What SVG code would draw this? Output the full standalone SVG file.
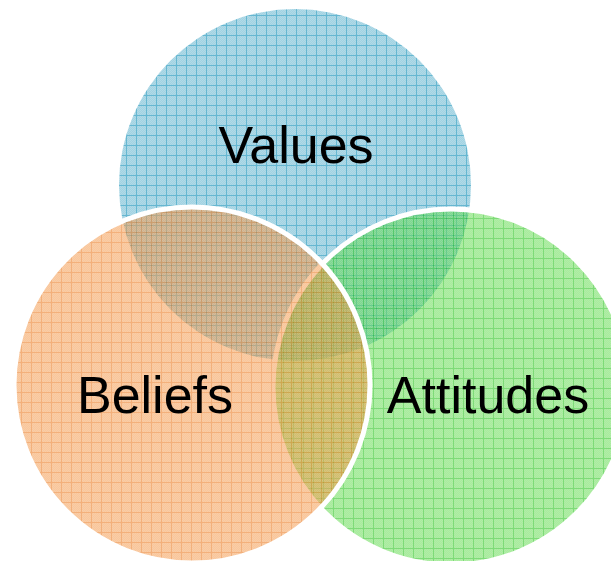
<svg xmlns="http://www.w3.org/2000/svg" width="611" height="561" viewBox="0 0 611 561">
  <defs>
    <style>
      .label { font-family: "Liberation Sans", Arial, sans-serif; font-size: 52px; fill: #000; text-anchor: middle; }
      .rim { fill: none; stroke: #fff; stroke-width: 5; }
    </style>
    <!-- fine dither textures -->
    <pattern id="dotBlue" width="2" height="2" patternUnits="userSpaceOnUse">
      <rect width="2" height="2" fill="#b0dae7"/>
      <rect width="1" height="1" fill="#a2d2e2"/>
      <rect x="1" y="1" width="1" height="1" fill="#a2d2e2"/>
    </pattern>
    <pattern id="dotGreen" width="2" height="2" patternUnits="userSpaceOnUse">
      <rect width="2" height="2" fill="#70e05e"/>
      <rect width="1" height="1" fill="#60d84e"/>
      <rect x="1" y="1" width="1" height="1" fill="#60d84e"/>
    </pattern>
    <pattern id="dotOrange" width="2" height="2" patternUnits="userSpaceOnUse">
      <rect width="2" height="2" fill="#f6a45b"/>
      <rect width="1" height="1" fill="#f2984c"/>
      <rect x="1" y="1" width="1" height="1" fill="#f2984c"/>
    </pattern>
    <!-- 10px grid paper fills -->
    <pattern id="gridBlue" width="10" height="10" x="6" y="5" patternUnits="userSpaceOnUse">
      <rect width="10" height="10" fill="url(#dotBlue)"/>
      <rect width="10" height="1" fill="#66b7d1"/>
      <rect width="1" height="10" fill="#66b7d1"/>
    </pattern>
    <pattern id="gridGreen" width="10" height="10" x="3" y="8" patternUnits="userSpaceOnUse">
      <rect width="10" height="10" fill="url(#dotGreen)"/>
      <rect width="10" height="1" fill="#14be0a"/>
      <rect width="1" height="10" fill="#14be0a"/>
    </pattern>
    <pattern id="gridOrange" width="10" height="10" x="1" y="2" patternUnits="userSpaceOnUse">
      <rect width="10" height="10" fill="url(#dotOrange)"/>
      <rect width="10" height="1" fill="#e9700f"/>
      <rect width="1" height="10" fill="#e9700f"/>
    </pattern>
  </defs>

  <g id="values">
    <circle cx="295" cy="185" r="176" fill="url(#gridBlue)"/>
  </g>

  <g id="attitudes">
    <circle cx="451" cy="387" r="178" fill="url(#gridGreen)" opacity="0.55"/>
    <circle class="rim" cx="451" cy="387" r="178"/>
  </g>

  <g id="beliefs">
    <circle cx="192" cy="385" r="178" fill="url(#gridOrange)" opacity="0.55"/>
    <circle class="rim" cx="192" cy="385" r="178"/>
  </g>

  <g id="labels">
    <text class="label" x="296" y="163">Values</text>
    <text class="label" x="155" y="413">Beliefs</text>
    <text class="label" x="488" y="413">Attitudes</text>
  </g>
</svg>
